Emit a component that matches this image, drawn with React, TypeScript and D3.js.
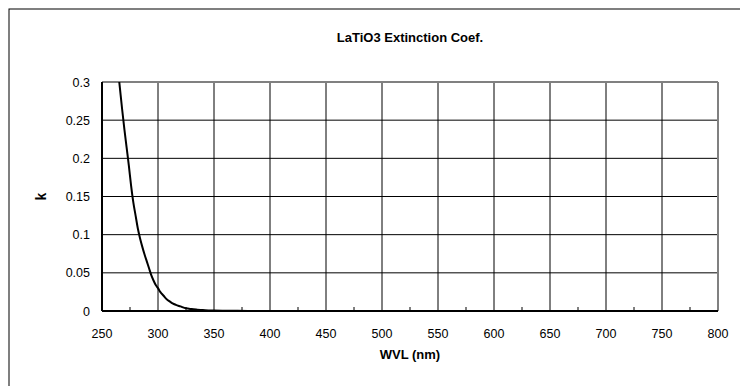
import React from "react";
import * as d3 from "d3";

const wavelengths = [265, 266, 268, 270, 272, 274, 276, 278, 280, 282, 284, 286, 288, 290, 292, 294, 296, 298, 300, 302, 305, 308, 310, 313, 316, 320, 325, 330, 335, 340, 345, 350, 360, 380, 400, 450, 500, 550, 600, 650, 700, 750, 800];
const kValues = [0.306, 0.292, 0.264, 0.238, 0.214, 0.19, 0.164, 0.142, 0.125, 0.108, 0.095, 0.084, 0.074, 0.065, 0.056, 0.047, 0.04, 0.034, 0.03, 0.025, 0.02, 0.015, 0.013, 0.01, 0.008, 0.006, 0.0035, 0.0025, 0.0018, 0.0012, 0.0008, 0.0005, 0.0003, 0.0001, 0, 0, 0, 0, 0, 0, 0, 0, 0];
const xTicks = [250, 300, 350, 400, 450, 500, 550, 600, 650, 700, 750, 800];
const xMinorTicks = [275, 325, 375, 425, 475, 525, 575, 625, 675, 725, 775];
const yTicks = [0, 0.05, 0.1, 0.15, 0.2, 0.25, 0.3];
const yTickLabels = ["0", "0.05", "0.1", "0.15", "0.2", "0.25", "0.3"];

const W = 740, H = 386;
const L = 102, R = 718, T = 82, B = 311;
const FONT = "'Liberation Sans', Arial, sans-serif";

export default function App() {
  const x = d3.scaleLinear().domain([250, 800]).range([L, R]);
  const y = d3.scaleLinear().domain([0, 0.3]).range([B, T]);
  const data = wavelengths.map((w, i) => [w, kValues[i]] as [number, number]);
  const line = d3.line<[number, number]>().x(d => x(d[0])).y(d => y(d[1])).curve(d3.curveMonotoneX);

  return (
    <svg width={W} height={H} style={{ position: "absolute", left: 0, top: 0, background: "#fff" }} fontFamily={FONT}>
      <defs>
        <clipPath id="plotclip"><rect x={L} y={T} width={R - L} height={B - T} /></clipPath>
      </defs>
      <rect x={9} y={9} width={W + 20} height={H + 20} fill="#fff" stroke="#000" strokeWidth={1} />
      <text x={410} y={42} textAnchor="middle" fontSize={13} fontWeight="bold">LaTiO3 Extinction Coef.</text>
      {/* horizontal gridlines */}
      {yTicks.slice(1, -1).map(t => (
        <line key={"h" + t} x1={L} x2={R} y1={y(t)} y2={y(t)} stroke="#000" strokeWidth={1} />
      ))}
      {/* vertical gridlines */}
      {xTicks.slice(1, -1).map(t => (
        <line key={"v" + t} x1={x(t)} x2={x(t)} y1={T} y2={B} stroke="#000" strokeWidth={1} />
      ))}
      {/* plot border top/right gray */}
      <line x1={L} x2={R} y1={T} y2={T} stroke="#808080" strokeWidth={2} />
      <line x1={R} x2={R} y1={T} y2={B} stroke="#808080" strokeWidth={2} />
      {/* axes */}
      <line x1={L} x2={L} y1={T} y2={B} stroke="#000" strokeWidth={2} />
      <line x1={L} x2={R} y1={B} y2={B} stroke="#000" strokeWidth={2} />
      {xMinorTicks.map(t => (
        <line key={"m" + t} x1={x(t)} x2={x(t)} y1={B} y2={B - 4} stroke="#000" strokeWidth={1} />
      ))}
      <path d={line(data) || ""} fill="none" stroke="#000" strokeWidth={2} clipPath="url(#plotclip)" />
      {yTicks.map((t, i) => (
        <text key={"yl" + t} x={90} y={y(t) + 4.5} textAnchor="end" fontSize={12.5}>{yTickLabels[i]}</text>
      ))}
      {xTicks.map(t => (
        <text key={"xl" + t} x={x(t)} y={338} textAnchor="middle" fontSize={12.5}>{t}</text>
      ))}
      <text x={410} y={359} textAnchor="middle" fontSize={13} fontWeight="bold">WVL (nm)</text>
      <text transform={`translate(46,${(T + B) / 2}) rotate(-90)`} textAnchor="middle" fontSize={14} fontWeight="bold">k</text>
    </svg>
  );
}
